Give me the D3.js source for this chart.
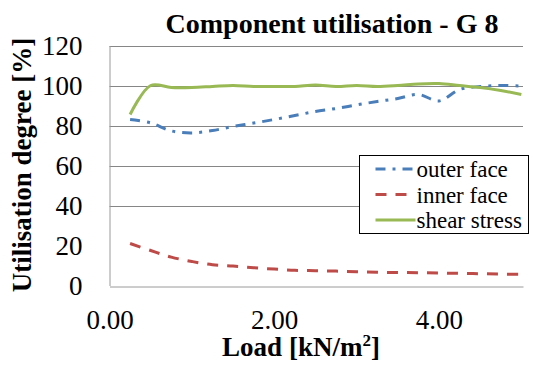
<!DOCTYPE html>
<html>
<head>
<meta charset="utf-8">
<script src="https://cdn.jsdelivr.net/npm/d3@7/dist/d3.min.js"></script>
<style>
  body { margin: 0; background: #fff; }
</style>
</head>
<body>
<div id="chart"></div>
<script>
// load steps [kN/m2]
const loads = [0.25, 0.5, 0.75, 1.0, 1.25, 1.5, 1.75, 2.0, 2.25, 2.5,
               2.75, 3.0, 3.25, 3.5, 3.75, 4.0, 4.25, 4.5, 4.75, 5.0];
// utilisation degree [%]
const outerFace = [83, 81.3, 77.3, 76.3, 77.5, 79.5, 81.2, 83, 85, 87,
                   88.5, 90.3, 92, 93.5, 95.5, 92.3, 98, 99.5, 100, 99.7];
const innerFace = [21, 17.5, 14.2, 12, 10.4, 9.7, 8.9, 8.2, 7.6, 7.4,
                   7.2, 6.9, 6.6, 6.5, 6.4, 6.2, 6.1, 5.9, 5.7, 5.6];
const shearStress = [85.5, 100, 99, 99, 99.5, 100, 99.5, 99.5, 99.5, 100.3,
                     99.5, 100, 99.5, 100, 100.8, 101, 100, 99, 97.5, 95.5];
const xTicks = [0, 2, 4];
const yTicks = [0, 20, 40, 60, 80, 100, 120];
const yGrid = [40, 60, 80, 100, 120];

const series = [
  { name: 'outer face', values: outerFace, color: '#4A7EBB', dash: '10,7,3,7' },
  { name: 'inner face', values: innerFace, color: '#BE4B48', dash: '11,9' },
  { name: 'shear stress', values: shearStress, color: '#98B954', dash: null }
];

const FONT = '"Liberation Serif"';
const width = 533, height = 372;
const margin = { top: 45.5, right: 10, bottom: 86.5, left: 109.5 };

const svg = d3.select('#chart').append('svg')
  .attr('width', width)
  .attr('height', height);

svg.append('rect').attr('width', width).attr('height', height).attr('fill', '#fff');

const x = d3.scaleLinear().domain([0, 5.02]).range([margin.left, width - margin.right]);
const y = d3.scaleLinear().domain([0, 120]).range([height - margin.bottom, margin.top]);

// gridlines
svg.append('g')
  .selectAll('line')
  .data(yGrid)
  .join('line')
  .attr('x1', x(0)).attr('x2', x(5.02))
  .attr('y1', d => Math.round(y(d)) + 0.5).attr('y2', d => Math.round(y(d)) + 0.5)
  .attr('stroke', '#868686')
  .attr('stroke-width', 1);

// axes
const yAxis = svg.append('g')
  .attr('transform', `translate(${x(0)},0)`)
  .call(d3.axisLeft(y).tickValues(yTicks).tickSize(0).tickPadding(27));
yAxis.select('.domain').attr('stroke', '#9a9a9a');
yAxis.selectAll('text')
  .style('font-family', FONT)
  .style('font-size', '27px')
  .attr('fill', '#000');

const xAxis = svg.append('g')
  .attr('transform', `translate(0,${Math.round(y(0)) + 0.5})`)
  .call(d3.axisBottom(x).tickValues(xTicks).tickSize(0).tickPadding(23).tickFormat(d3.format('.2f')));
xAxis.select('.domain').attr('stroke', '#9a9a9a');
xAxis.selectAll('text')
  .style('font-family', FONT)
  .style('font-size', '27px')
  .attr('fill', '#000');

// lines
const line = d3.line()
  .x((d, i) => x(loads[i]))
  .y(d => y(d))
  .curve(d3.curveCatmullRom.alpha(0.5));

svg.append('g')
  .selectAll('path')
  .data(series)
  .join('path')
  .attr('d', d => line(d.values))
  .attr('fill', 'none')
  .attr('stroke', d => d.color)
  .attr('stroke-width', 3)
  .attr('stroke-dasharray', d => d.dash);

// title
svg.append('text')
  .attr('x', 332).attr('y', 33)
  .attr('text-anchor', 'middle')
  .style('font-family', FONT)
  .style('font-size', '28px')
  .style('font-weight', 'bold')
  .text('Component utilisation - G 8');

// axis titles
svg.append('text')
  .attr('transform', 'translate(31,165) rotate(-90)')
  .attr('text-anchor', 'middle')
  .style('font-family', FONT)
  .style('font-size', '27px')
  .style('font-weight', 'bold')
  .text('Utilisation degree [%]');

const xt = svg.append('text')
  .attr('x', 301).attr('y', 356)
  .attr('text-anchor', 'middle')
  .style('font-family', FONT)
  .style('font-size', '27px')
  .style('font-weight', 'bold');
xt.append('tspan').text('Load [kN/m');
xt.append('tspan').style('font-size', '17px').attr('dy', -10).text('2');
xt.append('tspan').attr('dy', 10).text(']');

// legend
const legend = svg.append('g').attr('transform', 'translate(359.5,155.5)');
legend.append('rect')
  .attr('width', 169).attr('height', 78)
  .attr('fill', '#fff')
  .attr('stroke', '#000')
  .attr('stroke-width', 1);

const item = legend.selectAll('g.item')
  .data(series)
  .join('g')
  .attr('class', 'item')
  .attr('transform', (d, i) => `translate(0,${21.5 + i * 25.5})`);

item.append('line')
  .attr('x1', 16).attr('x2', 56)
  .attr('y1', -8).attr('y2', -8)
  .attr('stroke', d => d.color)
  .attr('stroke-width', 3)
  .attr('stroke-dasharray', d => d.dash);

item.append('text')
  .attr('x', 57).attr('y', 0)
  .style('font-family', FONT)
  .style('font-size', '23px')
  .text(d => d.name);
</script>
</body>
</html>
